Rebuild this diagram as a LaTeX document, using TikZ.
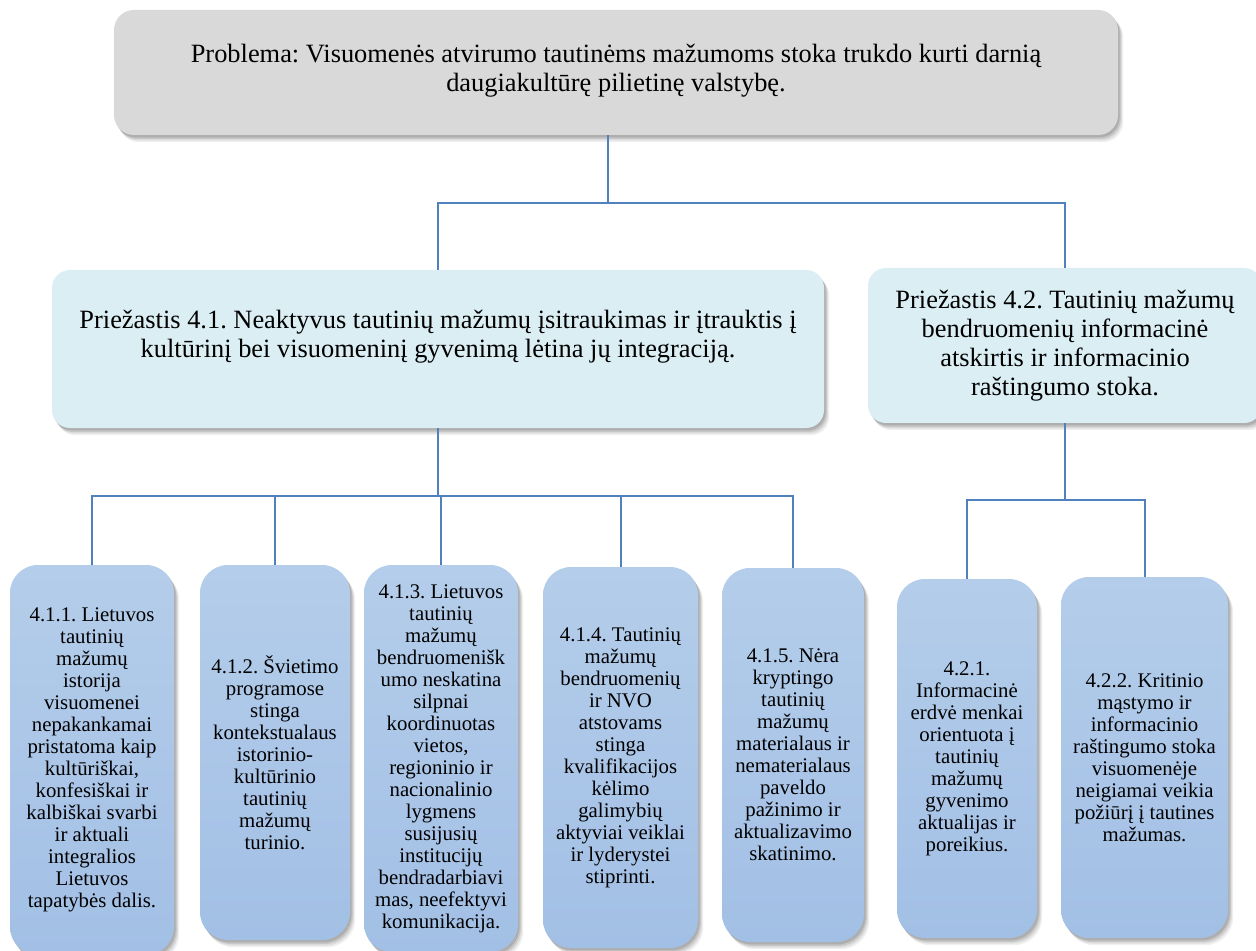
\documentclass[tikz,border=0pt]{standalone}
\usepackage{fontspec}
\setmainfont{Liberation Serif}
\usepackage{tikz}
\usetikzlibrary{shadows}
\frenchspacing

\definecolor{probgray}{HTML}{D9D9D9}
\definecolor{causeblue}{HTML}{DAEEF3}
\definecolor{subtop}{HTML}{B4CDEA}
\definecolor{subbot}{HTML}{A2BFE5}
\definecolor{linkblue}{HTML}{4F81BD}

\begin{document}
\begin{tikzpicture}[x=0.5pt,y=-0.5pt]
			\tikzset{boxshadow/.style = {
					general shadow={shadow xshift=2.6pt, shadow yshift=-3.6pt, fill=black, opacity=0.06},
					general shadow={shadow xshift=2pt, shadow yshift=-2.8pt, fill=black, opacity=0.08},
					general shadow={shadow xshift=1.4pt, shadow yshift=-2pt, fill=black, opacity=0.1},
					general shadow={shadow xshift=0.8pt, shadow yshift=-1.2pt, fill=black, opacity=0.12}}}
			\tikzset{probbox/.style = {shape=rectangle, rounded corners=10pt, fill=probgray, boxshadow,
					inner sep=0pt, align=center, font=\fontsize{13.2}{14.5}\selectfont}}
			\tikzset{causebox/.style = {shape=rectangle, rounded corners=9pt, fill=causeblue, boxshadow,
					inner sep=0pt, align=center, font=\fontsize{13.2}{14.5}\selectfont}}
			\tikzset{subbox/.style = {shape=rectangle, rounded corners=14pt, top color=subtop,
					bottom color=subbot, boxshadow, inner sep=0pt, align=center,
					font=\fontsize{10.4}{11}\selectfont}}
			\tikzset{edge/.style = {draw=linkblue, line width=1pt}}
			
			\useasboundingbox (0,0) rectangle (1256,951);
			
			% vertices
			\node[probbox, minimum width=502pt, minimum height=62.5pt, text depth=5pt] (prob) at (616,72.5)
				{Problema: Visuomenės atvirumo tautinėms mažumoms stoka trukdo kurti darnią\\ daugiakultūrę pilietinę valstybę.};
			
			\node[causebox, minimum width=386pt, minimum height=79pt, text depth=15pt] (c1) at (438,349)
				{Priežastis 4.1. Neaktyvus tautinių mažumų įsitraukimas ir įtrauktis į\\ kultūrinį bei visuomeninį gyvenimą lėtina jų integraciją.};
			\node[causebox, minimum width=197pt, minimum height=77.5pt] (c2) at (1065,345.5)
				{\fontsize{13.2}{14.2}\selectfont Priežastis 4.2. Tautinių mažumų\\ bendruomenių informacinė\\ atskirtis ir informacinio\\ raštingumo stoka.};
			
			\node[subbox, minimum width=82pt, minimum height=195pt] (s11) at (92,760)
				{4.1.1. Lietuvos\\ tautinių\\ mažumų\\ istorija\\ visuomenei\\ nepakankamai\\ pristatoma kaip\\ kultūriškai,\\ konfesiškai ir\\ kalbiškai svarbi\\ ir aktuali\\ integralios\\ Lietuvos\\ tapatybės dalis.};
			\node[subbox, minimum width=75pt, minimum height=187.5pt] (s12) at (275,752.5)
				{4.1.2. Švietimo\\ programose\\ stinga\\ kontekstualaus\\ istorinio-\\ kultūrinio\\ tautinių\\ mažumų\\ turinio.};
			\node[subbox, minimum width=77pt, minimum height=193.5pt] (s13) at (441,758.5)
				{4.1.3. Lietuvos\\ tautinių\\ mažumų\\ bendruomenišk\\ umo neskatina\\ silpnai\\ koordinuotas\\ vietos,\\ regioninio ir\\ nacionalinio\\ lygmens\\ susijusių\\ institucijų\\ bendradarbiavi\\ mas, neefektyvi\\ komunikacija.};
			\node[subbox, minimum width=77.5pt, minimum height=190.5pt] (s14) at (620.5,757.5)
				{4.1.4. Tautinių\\ mažumų\\ bendruomenių\\ ir NVO\\ atstovams\\ stinga\\ kvalifikacijos\\ kėlimo\\ galimybių\\ aktyviai veiklai\\ ir lyderystei\\ stiprinti.};
			\node[subbox, minimum width=71pt, minimum height=187pt] (s15) at (793,755)
				{4.1.5. Nėra\\ kryptingo\\ tautinių\\ mažumų\\ materialaus ir\\ nematerialaus\\ paveldo\\ pažinimo ir\\ aktualizavimo\\ skatinimo.};
			\node[subbox, minimum width=70pt, minimum height=179.5pt] (s21) at (967,758.5)
				{4.2.1.\\ Informacinė\\ erdvė menkai\\ orientuota į\\ tautinių\\ mažumų\\ gyvenimo\\ aktualijas ir\\ poreikius.};
			\node[subbox, minimum width=83.5pt, minimum height=180.5pt] (s22) at (1144.5,757.5)
				{4.2.2. Kritinio\\ mąstymo ir\\ informacinio\\ raštingumo stoka\\ visuomenėje\\ neigiamai veikia\\ požiūrį į tautines\\ mažumas.};
			
			%edges
			\draw[edge] ([xshift=-4pt]prob.south) -- ++(0,68) coordinate (j0);
			\draw[edge] (j0) -| (c1.north);
			\draw[edge] (j0) -| (c2.north);
			
			\draw[edge] (c1.south) -- ++(0,68) coordinate (j1);
			\foreach \s in {s11,s12,s13,s14,s15}
				\draw[edge] (j1) -| (\s.north);
			
			\draw[edge] (c2.south) -- ++(0,77) coordinate (j2);
			\foreach \s in {s21,s22}
				\draw[edge] (j2) -| (\s.north);
			
\end{tikzpicture}
\end{document}
